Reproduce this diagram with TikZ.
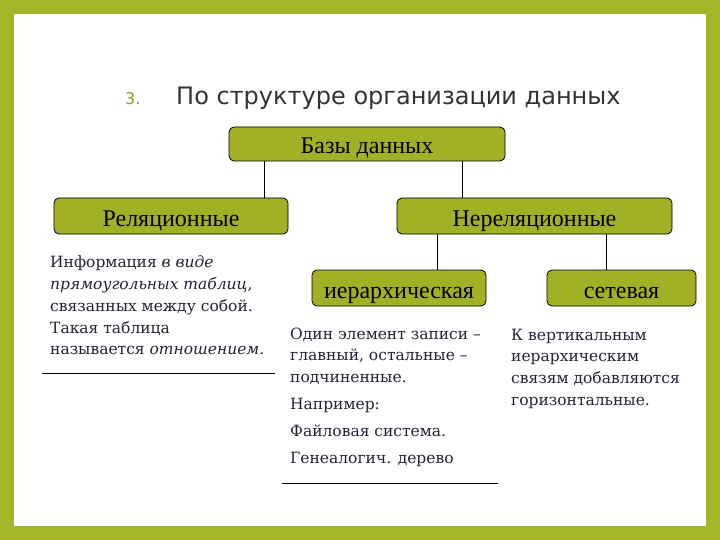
\documentclass[tikz,border=0pt]{standalone}
\usepackage{fontspec}
\setmainfont{Liberation Serif}
\newfontfamily\headfont{DejaVu Sans}
\newfontfamily\notefont{DejaVu Serif}
\usetikzlibrary{positioning,calc}
\definecolor{slidegreen}{RGB}{164,182,40}
\definecolor{boxgreen}{RGB}{162,176,38}
\definecolor{inkdark}{RGB}{35,38,52}

\begin{document}
\begin{tikzpicture}[x=1pt,y=-1pt,
      catbox/.style={rectangle, rounded corners=5pt, draw=black, line width=0.8pt,
                     fill=boxgreen, minimum height=36pt, inner sep=0pt,
                     text height=20pt, text depth=0pt,
                     font=\fontsize{24}{28}\selectfont},
      note/.style={anchor=north west, align=left, inner sep=0pt, text=inkdark,
                   font=\notefont\fontsize{15.5}{21.7}\selectfont},
      link/.style={line width=0.8pt, black},
      rule/.style={line width=0.8pt, black}]
      % slide frame
      \fill[slidegreen] (0,0) rectangle (720,540);
      \fill[white] (14,14) rectangle (706,526);
      % title
      \node[anchor=base west, inner sep=0pt, text=slidegreen!85!black,
            font=\headfont\fontsize{16}{16}\selectfont] (num) at (125,105) {3.};
      \node[anchor=base west, inner sep=0pt, text=black!80,
            font=\headfont\fontsize{24}{24}\selectfont] (title) at (176,105)
            {По структуре организации данных};
      % tree
      \node[catbox, minimum width=276pt, minimum height=34pt] (db) at (367,144) {Базы данных};
      \node[catbox, minimum width=234pt] (rel) at (171,216) {Реляционные};
      \node[catbox, minimum width=275pt] (nonrel) at (534.5,216) {Нереляционные};
      \node[catbox, minimum width=174pt] (hier) at (399,288) {иерархическая};
      \node[catbox, minimum width=149pt] (net) at (621.5,288) {сетевая};
      \coordinate (j1) at ($(rel.north east)+(-24,0)$);
      \coordinate (j2) at ($(nonrel.north west)+(66,0)$);
      \coordinate (j3) at ($(hier.north west)+(126,0)$);
      \coordinate (j4) at ($(net.north west)+(60,0)$);
      \draw[link] (j1 |- db.south) -- (j1);
      \draw[link] (j2 |- db.south) -- (j2);
      \draw[link] (j3 |- nonrel.south) -- (j3);
      \draw[link] (j4 |- nonrel.south) -- (j4);
      % notes
      \node[note] (reltext) at (50,256)
            {Информация \textit{в виде}\\
             \textit{прямоугольных таблиц},\\
             связанных между собой.\\
             Такая таблица\\
             называется \textit{отношением}.};
      \node[note] (hiertext) at (290,327.5)
            {Один элемент записи –\\
             главный, остальные –\\
             подчиненные.\\[5pt]
             Например:\\[5pt]
             Файловая система.\\[6pt]
             Генеалогич. дерево};
      \node[note] (nettext) at (511,328.5)
            {К вертикальным\\
             иерархическим\\
             связям добавляются\\
             горизонтальные.};
      \draw[rule] (42,373) -- (275,373);
      \draw[rule] (282,483) -- (498,483);
    \end{tikzpicture}
\end{document}
